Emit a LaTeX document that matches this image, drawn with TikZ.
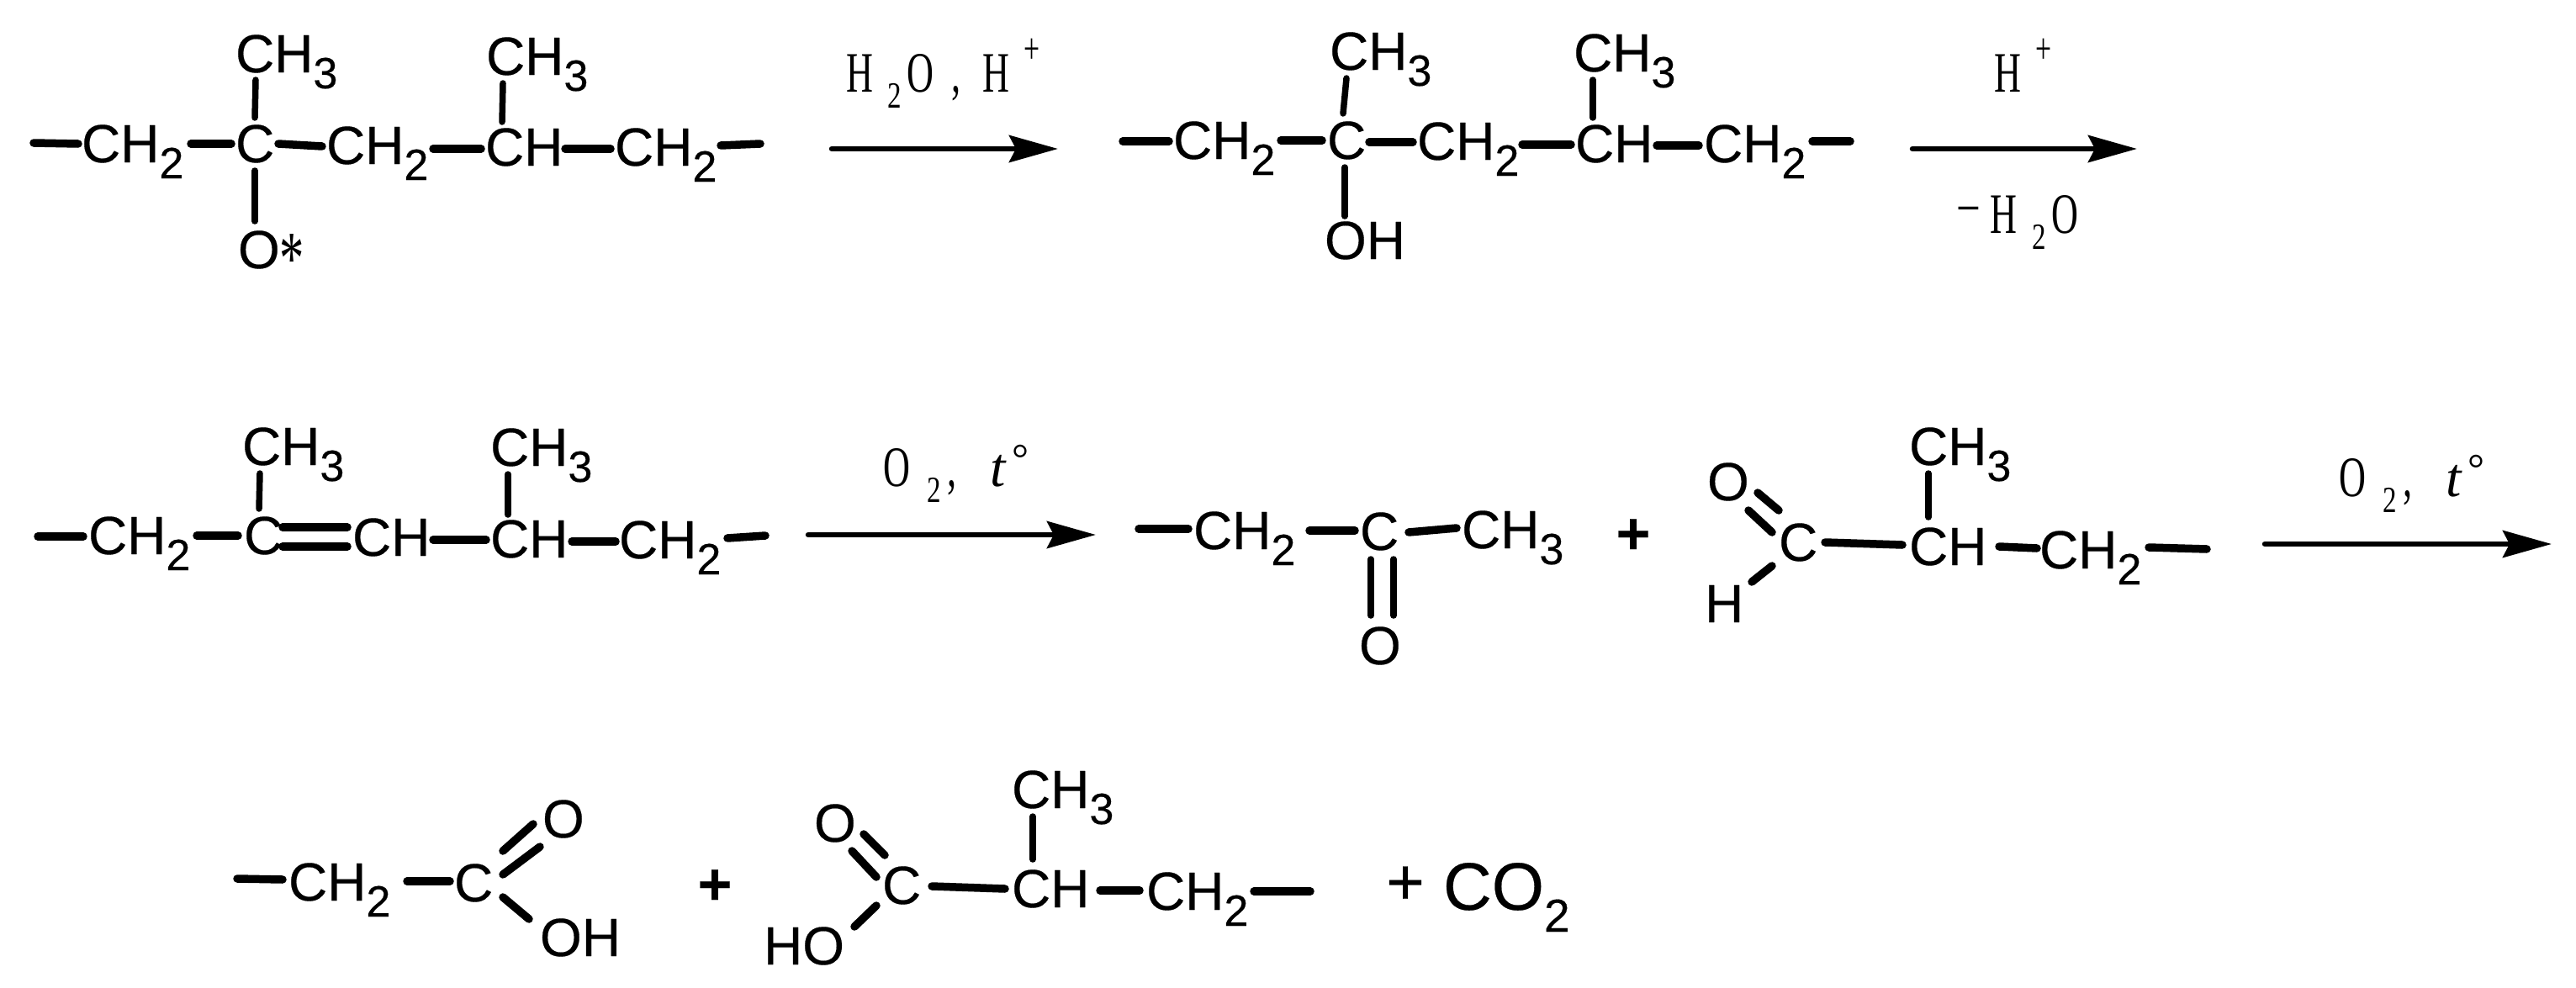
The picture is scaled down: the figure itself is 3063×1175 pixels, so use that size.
\documentclass[tikz,border=0pt]{standalone}
\usepackage{fontspec}
\usepackage{graphicx}
\usetikzlibrary{arrows.meta}
\setmainfont{Liberation Sans}[FakeBold=0.3]
\newfontfamily\labf[FakeStretch=0.65]{Liberation Serif}
\newfontfamily\labt[FakeStretch=0.75]{Liberation Serif}
\newfontfamily\labs{Liberation Serif}
\newcommand\cs[1]{\raisebox{-19pt}{\fontsize{52}{52}\selectfont #1}}
\newcommand\csb[1]{\raisebox{-26pt}{\fontsize{55}{55}\selectfont #1}}
\newcommand\lsb[1]{\raisebox{-19pt}{\fontsize{44}{44}\labt #1}}
\newcommand\lsp[1]{\raisebox{34pt}{\fontsize{52}{52}\labf #1}}
\newcommand\lt{{\fontsize{66}{66}\labs\itshape t}}
\newcommand\ldeg{\raisebox{16pt}{\fontsize{50}{50}\labs °}}
\tikzset{
  chem/.style={anchor=base west,inner sep=0pt,outer sep=0pt,font=\fontsize{64}{64}\selectfont},
  labl/.style={anchor=base west,inner sep=0pt,outer sep=0pt,font=\fontsize{68}{68}\labf},
  plusn/.style={anchor=center,inner sep=0pt,outer sep=0pt,font=\fontsize{70}{70}\selectfont\bfseries},
  plusr/.style={anchor=center,inner sep=0pt,outer sep=0pt,font=\fontsize{78}{78}\selectfont},
  bond/.style={line width=9.5pt,line cap=round},
  bondthin/.style={line width=7.5pt,line cap=round},
  rxn/.style={line width=6.5pt,line cap=round,-{Stealth[length=58pt,width=32pt,inset=8pt]}}
}
\newcommand\bnd[4]{\draw[bond] ([shift={(#2)}]#1.base west) -- ([shift={(#4)}]#3.base west);}
\newcommand\bnt[4]{\draw[bondthin] ([shift={(#2)}]#1.base west) -- ([shift={(#4)}]#3.base west);}
\begin{document}
\begin{tikzpicture}[x=1pt,y=-1pt]
\useasboundingbox[fill=white] (0,0) rectangle (3063,1175);
% row 1, molecule 1
\node[chem] (a1) at (97,193) {CH\cs{2}};
\node[chem] (a2) at (280,193) {C};
\node[chem] (a3) at (388,195) {CH\cs{2}};
\node[chem] (a4) at (577,197) {CH};
\node[chem] (a5) at (731,197) {CH\cs{2}};
\node[chem] (a6) at (280,86) {CH\cs{3}};
\node[chem] (a7) at (578,89) {CH\cs{3}};
\node[chem] (a8) at (283,319) {O\raisebox{-18pt}{\fontsize{90}{90}\labf *}};
\coordinate (fa1) at (40,170);
\coordinate (fa2) at (904,171);
\draw[bond] (fa1) -- ([shift={(-4,-22)}]a1.base west);
\bnd{a1}{130,-22}{a2}{-5,-22}
\bnd{a2}{51,-22}{a3}{-5,-21}
\bnd{a3}{127,-18}{a4}{-5,-20}
\bnd{a4}{95,-20}{a5}{-5,-20}
\draw[bond] ([shift={(126,-24)}]a5.base west) -- (fa2);
\bnt{a2}{23,-53}{a6}{24,9}
\bnt{a4}{20,-52}{a7}{20,10}
\bnt{a2}{23,10}{a8}{20,-56}
% arrow 1
\coordinate (ra1) at (989,177);
\coordinate (ra2) at (1258,177);
\draw[rxn] (ra1) -- (ra2);
\node[labl] (l1) at (1006,109) {H\kern18pt\lsb{2}\kern6pt O\kern21pt,\kern26pt H\kern17pt\lsp{+}};
% row 1, molecule 2
\node[chem] (b1) at (1395,189) {CH\cs{2}};
\node[chem] (b2) at (1578,189) {C};
\node[chem] (b3) at (1685,190) {CH\cs{2}};
\node[chem] (b4) at (1873,193) {CH};
\node[chem] (b5) at (2026,193) {CH\cs{2}};
\node[chem] (b6) at (1581,83) {CH\cs{3}};
\node[chem] (b7) at (1871,85) {CH\cs{3}};
\node[chem] (b8) at (1575,308) {OH};
\coordinate (fb1) at (1335,168);
\coordinate (fb2) at (2200,168);
\draw[bond] (fb1) -- ([shift={(-5,-21)}]b1.base west);
\bnd{b1}{128,-22}{b2}{-6,-22}
\bnd{b2}{50,-20}{b3}{-5,-21}
\bnd{b3}{125,-18}{b4}{-5,-21}
\bnd{b4}{97,-20}{b5}{-6,-20}
\draw[bond] ([shift={(129,-25)}]b5.base west) -- (fb2);
\bnt{b2}{19,-54}{b6}{20,10}
\bnt{b4}{21,-53}{b7}{23,10}
\bnt{b2}{21,10}{b8}{24,-51}
% arrow 2
\coordinate (rb1) at (2274,177);
\coordinate (rb2) at (2541,177);
\draw[rxn] (rb1) -- (rb2);
\node[labl] (l2) at (2371,109) {H\kern18pt\lsp{+}};
\node[labl] (l3) at (2326,277) {\raisebox{7pt}{\labt −}\kern12pt H\kern18pt\lsb{2}\kern6pt O};
% row 2, molecule 1
\node[chem] (c1) at (105,659) {CH\cs{2}};
\node[chem] (c2) at (290,659) {C};
\node[chem] (c3) at (419,661) {CH};
\node[chem] (c4) at (583,663) {CH};
\node[chem] (c5) at (736,664) {CH\cs{2}};
\node[chem] (c6) at (288,553) {CH\cs{3}};
\node[chem] (c7) at (583,554) {CH\cs{3}};
\coordinate (fc1) at (45,638);
\coordinate (fc2) at (910,637);
\draw[bond] (fc1) -- ([shift={(-6,-21)}]c1.base west);
\bnd{c1}{129,-22}{c2}{-7,-22}
\bnd{c2}{46,-32}{c3}{-6,-34}
\bnd{c2}{46,-9}{c3}{-6,-11}
\bnd{c3}{96,-19}{c4}{-5,-21}
\bnd{c4}{97,-19}{c5}{-4,-20}
\draw[bond] ([shift={(129,-24)}]c5.base west) -- (fc2);
\bnt{c2}{18,-54}{c6}{21,10}
\bnt{c4}{21,-51}{c7}{21,10}
% arrow 3
\coordinate (rc1) at (961,636);
\coordinate (rc2) at (1303,636);
\draw[rxn] (rc1) -- (rc2);
\node[labl] (l4) at (1050,578) {O\kern21pt\lsb{2}\kern7pt,\kern40pt\lt\kern8pt\ldeg};
% row 2, molecule 2
\node[chem] (d1) at (1419,653) {CH\cs{2}};
\node[chem] (d2) at (1617,654) {C};
\node[chem] (d3) at (1738,652) {CH\cs{3}};
\node[chem] (d4) at (1616,790) {O};
\coordinate (fd1) at (1354,629);
\draw[bond] (fd1) -- ([shift={(-6,-24)}]d1.base west);
\bnd{d1}{138,-22}{d2}{-6,-23}
\bnd{d2}{58,-21}{d3}{-6,-24}
\bnt{d2}{13,11}{d4}{14,-58}
\bnt{d2}{40,11}{d4}{41,-58}
\node[plusn] (p1) at (1942,638) {+};
% row 2, molecule 3
\node[chem] (e1) at (2115,667) {C};
\node[chem] (e2) at (2270,672) {CH};
\node[chem] (e3) at (2425,676) {CH\cs{2}};
\node[chem] (e4) at (2270,553) {CH\cs{3}};
\node[chem] (e5) at (2030,595) {O};
\node[chem] (e6) at (2027,740) {H};
\coordinate (fe1) at (2624,653);
\bnd{e1}{55,-22}{e2}{-8,-24}
\bnd{e2}{107,-22}{e3}{-3,-24}
\draw[bond] ([shift={(130,-25)}]e3.base west) -- (fe1);
\bnt{e2}{23,-57}{e4}{23,10}
\bnd{e1}{0,-60}{e5}{60,-9}
\bnd{e1}{-8,-34}{e5}{49,12}
\bnd{e1}{-8,6}{e6}{56,-48}
% arrow 4
\coordinate (rd1) at (2693,647);
\coordinate (rd2) at (3034,647);
\draw[rxn] (rd1) -- (rd2);
\node[labl] (l5) at (2781,590) {O\kern21pt\lsb{2}\kern7pt,\kern40pt\lt\kern8pt\ldeg};
% row 3, molecule 1
\node[chem] (f1) at (343,1071) {CH\cs{2}};
\node[chem] (f2) at (540,1072) {C};
\node[chem] (f3) at (645,996) {O};
\node[chem] (f4) at (642,1137) {OH};
\coordinate (ff1) at (282,1045);
\draw[bond] (ff1) -- ([shift={(-7,-25)}]f1.base west);
\bnd{f1}{141,-23}{f2}{-5,-24}
\bnd{f2}{58,-60}{f3}{-11,-16}
\bnd{f2}{58,-32}{f3}{-3,11}
\bnd{f2}{58,-5}{f4}{-13,-44}
\node[plusn] (p2) at (850,1055) {+};
% row 3, molecule 2
\node[chem] (g1) at (1049,1075) {C};
\node[chem] (g2) at (1203,1079) {CH};
\node[chem] (g3) at (1363,1082) {CH\cs{2}};
\node[chem] (g4) at (1203,961) {CH\cs{3}};
\node[chem] (g5) at (968,1001) {O};
\node[chem] (g6) at (908,1147) {HO};
\coordinate (fg1) at (1558,1060);
\bnd{g1}{59,-21}{g2}{-8,-22}
\bnd{g2}{105,-20}{g3}{-8,-23}
\draw[bond] ([shift={(128,-22)}]g3.base west) -- (fg1);
\bnt{g2}{25,-57}{g4}{25,10}
\bnd{g1}{3,-58}{g5}{59,-9}
\bnd{g1}{-7,-32}{g5}{45,11}
\bnd{g1}{-7,2}{g6}{108,-45}
\node[plusr] (p3) at (1671,1053) {+};
\node[anchor=base west,inner sep=0pt,outer sep=0pt,font=\fontsize{80}{80}\selectfont] (co2) at (1716,1082) {CO\csb{2}};
\end{tikzpicture}
\end{document}
